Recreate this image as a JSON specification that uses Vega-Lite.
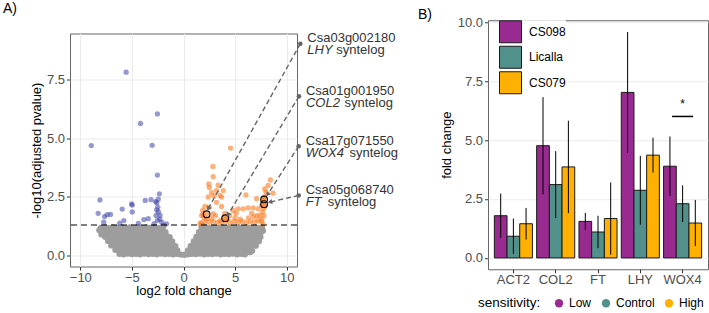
{
"$schema": "https://vega.github.io/schema/vega-lite/v6.json",
"background": "white",
"padding": {"left": 2, "top": 1, "right": 0, "bottom": 0},
"spacing": 18,
"center": true,
"resolve": {"legend": {"fill": "independent", "color": "independent"}},
"datasets": {
"ns": [
{"x":-8.0,"y":1.18},{"x":-7.6,"y":1.2},{"x":-7.2,"y":1.17},{"x":-6.8,"y":1.2},{"x":-6.4,"y":1.18},{"x":-6.0,"y":1.21},{"x":-5.6,"y":1.17},{"x":-5.2,"y":1.2},{"x":-4.8,"y":1.18},{"x":-4.4,"y":1.21},{"x":-4.0,"y":1.17},{"x":-3.6,"y":1.2},{"x":-3.2,"y":1.18},{"x":-2.8,"y":1.21},{"x":-2.4,"y":1.17},{"x":-2.0,"y":1.2},
{"x":1.75,"y":1.18},{"x":2.1,"y":1.21},{"x":2.5,"y":1.17},{"x":2.9,"y":1.2},{"x":3.3,"y":1.18},{"x":3.7,"y":1.21},{"x":4.1,"y":1.17},{"x":4.5,"y":1.2},{"x":4.9,"y":1.18},{"x":5.3,"y":1.21},{"x":5.7,"y":1.17},{"x":6.1,"y":1.2},{"x":6.5,"y":1.18},{"x":6.9,"y":1.21},{"x":7.3,"y":1.17},{"x":7.6,"y":1.2},
{"x":-7.8,"y":1.0},{"x":-7.4,"y":0.98},{"x":-7.0,"y":1.01},{"x":-6.6,"y":0.99},{"x":-6.2,"y":1.0},{"x":-5.8,"y":0.98},{"x":-5.4,"y":1.01},{"x":-5.0,"y":0.99},{"x":-4.6,"y":1.0},{"x":-4.2,"y":0.98},{"x":-3.8,"y":1.01},{"x":-3.4,"y":0.99},{"x":-3.0,"y":1.0},{"x":-2.6,"y":0.98},{"x":-2.2,"y":1.01},{"x":-1.75,"y":0.99},
{"x":1.5,"y":1.0},{"x":1.9,"y":0.98},{"x":2.3,"y":1.01},{"x":2.7,"y":0.99},{"x":3.1,"y":1.0},{"x":3.5,"y":0.98},{"x":3.9,"y":1.01},{"x":4.3,"y":0.99},{"x":4.7,"y":1.0},{"x":5.1,"y":0.98},{"x":5.5,"y":1.01},{"x":5.9,"y":0.99},{"x":6.3,"y":1.0},{"x":6.7,"y":0.98},{"x":7.1,"y":1.01},{"x":7.5,"y":0.99},
{"x":-7.6,"y":0.8},{"x":-7.2,"y":0.82},{"x":-6.8,"y":0.79},{"x":-6.4,"y":0.81},{"x":-6.0,"y":0.8},{"x":-5.6,"y":0.82},{"x":-5.2,"y":0.79},{"x":-4.8,"y":0.81},{"x":-4.4,"y":0.8},{"x":-4.0,"y":0.82},{"x":-3.6,"y":0.79},{"x":-3.2,"y":0.81},{"x":-2.8,"y":0.8},{"x":-2.4,"y":0.82},{"x":-2.0,"y":0.79},{"x":-1.6,"y":0.81},{"x":-1.35,"y":0.78},
{"x":1.25,"y":0.79},{"x":1.6,"y":0.81},{"x":2.0,"y":0.8},{"x":2.4,"y":0.82},{"x":2.8,"y":0.79},{"x":3.2,"y":0.81},{"x":3.6,"y":0.8},{"x":4.0,"y":0.82},{"x":4.4,"y":0.79},{"x":4.8,"y":0.81},{"x":5.2,"y":0.8},{"x":5.6,"y":0.82},{"x":6.0,"y":0.79},{"x":6.4,"y":0.81},{"x":6.8,"y":0.8},{"x":7.2,"y":0.82},{"x":7.45,"y":0.79},
{"x":-7.3,"y":0.62},{"x":-6.9,"y":0.6},{"x":-6.5,"y":0.63},{"x":-6.1,"y":0.61},{"x":-5.7,"y":0.62},{"x":-5.3,"y":0.6},{"x":-4.9,"y":0.63},{"x":-4.5,"y":0.61},{"x":-4.1,"y":0.62},{"x":-3.7,"y":0.6},{"x":-3.3,"y":0.63},{"x":-2.9,"y":0.61},{"x":-2.5,"y":0.62},{"x":-2.1,"y":0.6},{"x":-1.7,"y":0.63},{"x":-1.35,"y":0.61},{"x":-1.1,"y":0.6},
{"x":1.0,"y":0.6},{"x":1.4,"y":0.62},{"x":1.8,"y":0.6},{"x":2.2,"y":0.63},{"x":2.6,"y":0.61},{"x":3.0,"y":0.62},{"x":3.4,"y":0.6},{"x":3.8,"y":0.63},{"x":4.2,"y":0.61},{"x":4.6,"y":0.62},{"x":5.0,"y":0.6},{"x":5.4,"y":0.63},{"x":5.8,"y":0.61},{"x":6.2,"y":0.62},{"x":6.6,"y":0.6},{"x":7.0,"y":0.63},{"x":7.3,"y":0.61},
{"x":-7.0,"y":0.43},{"x":-6.6,"y":0.41},{"x":-6.2,"y":0.44},{"x":-5.8,"y":0.42},{"x":-5.4,"y":0.43},{"x":-5.0,"y":0.41},{"x":-4.6,"y":0.44},{"x":-4.2,"y":0.42},{"x":-3.8,"y":0.43},{"x":-3.4,"y":0.41},{"x":-3.0,"y":0.44},{"x":-2.6,"y":0.42},{"x":-2.2,"y":0.43},{"x":-1.8,"y":0.41},{"x":-1.4,"y":0.44},{"x":-1.05,"y":0.42},{"x":-0.8,"y":0.4},
{"x":0.7,"y":0.4},{"x":1.1,"y":0.43},{"x":1.5,"y":0.41},{"x":1.9,"y":0.44},{"x":2.3,"y":0.42},{"x":2.7,"y":0.43},{"x":3.1,"y":0.41},{"x":3.5,"y":0.44},{"x":3.9,"y":0.42},{"x":4.3,"y":0.43},{"x":4.7,"y":0.41},{"x":5.1,"y":0.44},{"x":5.5,"y":0.42},{"x":5.9,"y":0.43},{"x":6.3,"y":0.41},{"x":6.7,"y":0.44},{"x":7.0,"y":0.42},
{"x":-6.6,"y":0.24},{"x":-6.2,"y":0.22},{"x":-5.8,"y":0.25},{"x":-5.4,"y":0.23},{"x":-5.0,"y":0.24},{"x":-4.6,"y":0.22},{"x":-4.2,"y":0.25},{"x":-3.8,"y":0.23},{"x":-3.4,"y":0.24},{"x":-3.0,"y":0.22},{"x":-2.6,"y":0.25},{"x":-2.2,"y":0.23},{"x":-1.8,"y":0.24},{"x":-1.4,"y":0.22},{"x":-1.0,"y":0.25},{"x":-0.6,"y":0.22},
{"x":0.45,"y":0.22},{"x":0.8,"y":0.24},{"x":1.2,"y":0.22},{"x":1.6,"y":0.25},{"x":2.0,"y":0.23},{"x":2.4,"y":0.24},{"x":2.8,"y":0.22},{"x":3.2,"y":0.25},{"x":3.6,"y":0.23},{"x":4.0,"y":0.24},{"x":4.4,"y":0.22},{"x":4.8,"y":0.25},{"x":5.2,"y":0.23},{"x":5.6,"y":0.24},{"x":6.0,"y":0.22},{"x":6.4,"y":0.25},{"x":6.65,"y":0.2},
{"x":-6.2,"y":0.07},{"x":-5.8,"y":0.05},{"x":-5.4,"y":0.08},{"x":-5.0,"y":0.06},{"x":-4.6,"y":0.07},{"x":-4.2,"y":0.05},{"x":-3.8,"y":0.08},{"x":-3.4,"y":0.06},{"x":-3.0,"y":0.07},{"x":-2.6,"y":0.05},{"x":-2.2,"y":0.08},{"x":-1.8,"y":0.06},{"x":-1.4,"y":0.07},{"x":-1.0,"y":0.05},{"x":-0.6,"y":0.07},{"x":-0.25,"y":0.04},
{"x":0.1,"y":0.03},{"x":0.45,"y":0.05},{"x":0.8,"y":0.07},{"x":1.2,"y":0.06},{"x":1.6,"y":0.08},{"x":2.0,"y":0.05},{"x":2.4,"y":0.07},{"x":2.8,"y":0.06},{"x":3.2,"y":0.08},{"x":3.6,"y":0.05},{"x":4.0,"y":0.07},{"x":4.4,"y":0.06},{"x":4.8,"y":0.08},{"x":5.2,"y":0.05},{"x":5.6,"y":0.07},{"x":5.95,"y":0.05},
{"x":6.45,"y":0.14},{"x":-8.15,"y":1.08},{"x":-7.95,"y":0.9},{"x":7.7,"y":1.05},{"x":-1.95,"y":1.26},{"x":1.85,"y":1.27}
],
"down": [
{"x":-5.56,"y":7.82},{"x":-2.53,"y":6.04},{"x":-4.17,"y":5.63},{"x":-8.94,"y":4.69},{"x":-3.04,"y":4.7},{"x":-2.53,"y":3.43},{"x":-2.34,"y":2.63},{"x":-8.1,"y":2.37},{"x":-8.27,"y":1.8},{"x":-7.65,"y":1.66},{"x":-7.4,"y":1.74},{"x":-7.08,"y":1.75},{"x":-7.73,"y":1.42},{"x":-5.94,"y":1.98},{"x":-5.78,"y":1.49},{"x":-6.18,"y":1.38},{"x":-5.03,"y":2.2},{"x":-4.97,"y":2.15},{"x":-4.97,"y":1.86},{"x":-4.37,"y":1.37},{"x":-3.71,"y":2.35},{"x":-3.15,"y":2.38},{"x":-3.84,"y":1.53},{"x":-3.42,"y":1.57},{"x":-2.59,"y":2.25},{"x":-2.49,"y":2.06},{"x":-2.43,"y":1.86},{"x":-2.66,"y":1.71},{"x":-2.27,"y":1.71},{"x":-2.53,"y":1.5},{"x":-2.11,"y":1.42},{"x":-1.65,"y":1.35},{"x":-2.85,"y":1.36},{"x":-2.45,"y":2.4},{"x":-2.6,"y":1.95},{"x":-2.3,"y":1.55},{"x":-2.7,"y":2.3}
],
"up": [
{"x":4.56,"y":4.58},{"x":2.85,"y":3.8},{"x":2.88,"y":3.36},{"x":2.45,"y":3.05},{"x":3.36,"y":3.0},{"x":2.5,"y":2.9},{"x":3.2,"y":2.77},{"x":3.85,"y":2.77},{"x":2.72,"y":2.68},{"x":2.4,"y":2.5},{"x":2.95,"y":2.55},{"x":3.53,"y":2.56},{"x":3.69,"y":2.49},{"x":3.2,"y":2.27},{"x":6.05,"y":2.59},{"x":8.42,"y":3.22},{"x":8.2,"y":2.99},{"x":8.68,"y":2.66},{"x":7.87,"y":2.84},{"x":8.0,"y":2.7},{"x":7.07,"y":2.42},{"x":2.08,"y":2.09},{"x":2.5,"y":2.05},{"x":3.69,"y":2.09},{"x":1.85,"y":1.92},{"x":1.76,"y":1.71},{"x":2.24,"y":1.56},{"x":2.88,"y":1.78},{"x":3.1,"y":1.7},{"x":3.53,"y":1.49},{"x":4.49,"y":1.71},{"x":4.81,"y":1.92},{"x":5.3,"y":1.99},{"x":5.78,"y":1.99},{"x":6.26,"y":2.03},{"x":6.75,"y":2.03},{"x":7.23,"y":1.99},{"x":7.55,"y":2.13},{"x":7.65,"y":1.85},{"x":7.39,"y":1.71},{"x":7.7,"y":2.35},{"x":7.75,"y":2.0},{"x":7.8,"y":1.7},{"x":7.6,"y":1.55},{"x":7.85,"y":2.5},{"x":7.5,"y":1.45},{"x":1.7,"y":1.4},{"x":2.1,"y":1.45},{"x":2.5,"y":1.42},{"x":2.9,"y":1.45},{"x":3.3,"y":1.4},{"x":3.7,"y":1.43},{"x":4.1,"y":1.45},{"x":4.5,"y":1.4},{"x":4.9,"y":1.45},{"x":5.3,"y":1.42},{"x":5.7,"y":1.45},{"x":6.1,"y":1.4},{"x":6.5,"y":1.45},{"x":6.9,"y":1.42},{"x":7.2,"y":1.5},{"x":2.0,"y":1.6},{"x":2.7,"y":1.58},{"x":3.9,"y":1.6},{"x":5.0,"y":1.6},{"x":5.5,"y":1.55},{"x":6.3,"y":1.6},{"x":6.8,"y":1.65},{"x":7.1,"y":1.7},{"x":4.3,"y":1.55},{"x":1.9,"y":1.75},{"x":4.0,"y":1.8},{"x":5.1,"y":1.8},{"x":6.6,"y":1.8},{"x":2.24,"y":1.76},{"x":4.04,"y":1.59},{"x":7.81,"y":2.39},{"x":7.81,"y":2.19},{"x":7.7,"y":1.35},{"x":1.6,"y":1.35},{"x":7.9,"y":2.1}
],
"hits": [
{"x":2.24,"y":1.76},{"x":4.04,"y":1.59},{"x":7.81,"y":2.39},{"x":7.81,"y":2.19}
],
"thr": [{"y":1.301}],
"ann": [
{"id":"Csa03g002180","gene":"LHY","lx":11.32,"ly":9.03,"tx":2.4,"ty":2.0,"sx":14.8},
{"id":"Csa01g001950","gene":"COL2","lx":11.19,"ly":6.79,"tx":4.3,"ty":1.73,"sx":15.6},
{"id":"Csa17g071550","gene":"WOX4","lx":11.16,"ly":4.66,"tx":8.15,"ty":2.6,"sx":16.09},
{"id":"Csa05g068740","gene":"FT","lx":11.16,"ly":2.56,"tx":8.38,"ty":2.28,"sx":13.99}
],
"expr": [
{"gene":"ACT2","genotype":"CS098","sensitivity":"Low","mean":1.79,"lo":0.85,"hi":2.73},
{"gene":"ACT2","genotype":"Licalla","sensitivity":"Control","mean":0.92,"lo":0.17,"hi":1.67},
{"gene":"ACT2","genotype":"CS079","sensitivity":"High","mean":1.45,"lo":0.78,"hi":2.12},
{"gene":"COL2","genotype":"CS098","sensitivity":"Low","mean":4.76,"lo":2.7,"hi":6.82},
{"gene":"COL2","genotype":"Licalla","sensitivity":"Control","mean":3.11,"lo":1.69,"hi":4.53},
{"gene":"COL2","genotype":"CS079","sensitivity":"High","mean":3.86,"lo":1.9,"hi":5.82},
{"gene":"FT","genotype":"CS098","sensitivity":"Low","mean":1.55,"lo":1.19,"hi":1.91},
{"gene":"FT","genotype":"Licalla","sensitivity":"Control","mean":1.1,"lo":0.41,"hi":1.79},
{"gene":"FT","genotype":"CS079","sensitivity":"High","mean":1.67,"lo":0.14,"hi":3.2},
{"gene":"LHY","genotype":"CS098","sensitivity":"Low","mean":7.02,"lo":4.46,"hi":9.58},
{"gene":"LHY","genotype":"Licalla","sensitivity":"Control","mean":2.87,"lo":1.41,"hi":4.33},
{"gene":"LHY","genotype":"CS079","sensitivity":"High","mean":4.36,"lo":3.62,"hi":5.1},
{"gene":"WOX4","genotype":"CS098","sensitivity":"Low","mean":3.89,"lo":2.63,"hi":5.15},
{"gene":"WOX4","genotype":"Licalla","sensitivity":"Control","mean":2.3,"lo":1.52,"hi":3.08},
{"gene":"WOX4","genotype":"CS079","sensitivity":"High","mean":1.48,"lo":0.5,"hi":2.46}
],
"sig": [{"gene":"WOX4","y":6.0,"label":"*"}]
},
"hconcat": [
{
"width": 227, "height": 233,
"title": {"text": "A)", "anchor": "start", "frame": "group", "dx": -67, "offset": 16},
"layer": [
{"data": {"name": "ns"}, "mark": {"type": "circle", "size": 40, "color": "#9d9d9d", "opacity": 1},
 "encoding": {
  "x": {"field": "x", "type": "quantitative", "scale": {"domain": [-11, 11], "nice": false, "zero": false},
   "axis": {"title": "log2 fold change", "values": [-10, -7.5, -5, -2.5, 0, 2.5, 5, 7.5, 10], "format": "d",
     "labelExpr": "datum.value % 5 === 0 ? datum.label : ''", "labelPadding": 1, "titlePadding": 0,
     "gridWidth": {"condition": {"test": "datum.value % 5 !== 0", "value": 0.5}, "value": 1},
     "tickOpacity": {"condition": {"test": "datum.value % 5 !== 0", "value": 0}, "value": 1}}},
  "y": {"field": "y", "type": "quantitative", "scale": {"domain": [-0.47, 9.47], "nice": false, "zero": false},
   "axis": {"title": "-log10(adjusted pvalue)", "values": [0, 1.25, 2.5, 3.75, 5, 6.25, 7.5, 8.75], "format": ".1f",
     "labelExpr": "datum.value % 2.5 === 0 ? datum.label : ''", "titlePadding": 3,
     "gridWidth": {"condition": {"test": "datum.value % 2.5 !== 0", "value": 0.5}, "value": 1},
     "tickOpacity": {"condition": {"test": "datum.value % 2.5 !== 0", "value": 0}, "value": 1}}}
 }},
{"data": {"name": "down"}, "mark": {"type": "circle", "size": 28, "color": "#3f45a8", "opacity": 0.55},
 "encoding": {"x": {"field": "x", "type": "quantitative", "scale": {"domain": [-11, 11], "nice": false, "zero": false}}, "y": {"field": "y", "type": "quantitative", "scale": {"domain": [-0.47, 9.47], "nice": false, "zero": false}}}},
{"data": {"name": "up"}, "mark": {"type": "circle", "size": 28, "color": "#fa7d22", "opacity": 0.6},
 "encoding": {"x": {"field": "x", "type": "quantitative", "scale": {"domain": [-11, 11], "nice": false, "zero": false}}, "y": {"field": "y", "type": "quantitative", "scale": {"domain": [-0.47, 9.47], "nice": false, "zero": false}}}},
{"data": {"name": "thr"}, "mark": {"type": "rule", "color": "black", "strokeWidth": 1.2, "strokeDash": [6, 4]},
 "encoding": {"y": {"field": "y", "type": "quantitative", "scale": {"domain": [-0.47, 9.47], "nice": false, "zero": false}}}},
{"data": {"name": "hits"}, "mark": {"type": "point", "filled": false, "size": 45, "color": "black", "strokeWidth": 1.1, "opacity": 1},
 "encoding": {"x": {"field": "x", "type": "quantitative", "scale": {"domain": [-11, 11], "nice": false, "zero": false}}, "y": {"field": "y", "type": "quantitative", "scale": {"domain": [-0.47, 9.47], "nice": false, "zero": false}}}},
{"data": {"name": "ann"}, "mark": {"type": "rule", "color": "#666666", "strokeWidth": 1.4, "strokeDash": [5, 3]},
 "encoding": {"x": {"field": "lx", "type": "quantitative", "scale": {"domain": [-11, 11], "nice": false, "zero": false}}, "y": {"field": "ly", "type": "quantitative", "scale": {"domain": [-0.47, 9.47], "nice": false, "zero": false}}, "x2": {"field": "tx"}, "y2": {"field": "ty"}}},
{"data": {"name": "ann"}, "transform": [{"calculate": "atan2((datum.tx - datum.lx) * 10.35, (datum.ty - datum.ly) * 23.45) * 180 / PI", "as": "ang"}],
 "mark": {"type": "point", "shape": "triangle-up", "filled": true, "size": 28, "color": "#666666", "opacity": 1},
 "encoding": {"x": {"field": "tx", "type": "quantitative", "scale": {"domain": [-11, 11], "nice": false, "zero": false}}, "y": {"field": "ty", "type": "quantitative", "scale": {"domain": [-0.47, 9.47], "nice": false, "zero": false}}, "angle": {"field": "ang", "type": "quantitative", "scale": null}}},
{"data": {"name": "ann"}, "mark": {"type": "circle", "size": 22, "color": "#666666", "opacity": 1},
 "encoding": {"x": {"field": "lx", "type": "quantitative", "scale": {"domain": [-11, 11], "nice": false, "zero": false}}, "y": {"field": "ly", "type": "quantitative", "scale": {"domain": [-0.47, 9.47], "nice": false, "zero": false}}}},
{"data": {"name": "ann"}, "mark": {"type": "text", "align": "left", "baseline": "alphabetic", "dx": 7, "dy": -1.5, "fontSize": 13, "color": "#333333"},
 "encoding": {"x": {"field": "lx", "type": "quantitative", "scale": {"domain": [-11, 11], "nice": false, "zero": false}}, "y": {"field": "ly", "type": "quantitative", "scale": {"domain": [-0.47, 9.47], "nice": false, "zero": false}}, "text": {"field": "id"}}},
{"data": {"name": "ann"}, "mark": {"type": "text", "align": "left", "baseline": "alphabetic", "dx": 7, "dy": 10.5, "fontSize": 13, "fontStyle": "italic", "color": "#333333"},
 "encoding": {"x": {"field": "lx", "type": "quantitative", "scale": {"domain": [-11, 11], "nice": false, "zero": false}}, "y": {"field": "ly", "type": "quantitative", "scale": {"domain": [-0.47, 9.47], "nice": false, "zero": false}}, "text": {"field": "gene"}}},
{"data": {"name": "ann"}, "mark": {"type": "text", "align": "left", "baseline": "alphabetic", "dy": 10.5, "fontSize": 13, "color": "#333333"},
 "encoding": {"x": {"field": "sx", "type": "quantitative", "scale": {"domain": [-11, 11], "nice": false, "zero": false}}, "y": {"field": "ly", "type": "quantitative", "scale": {"domain": [-0.47, 9.47], "nice": false, "zero": false}}, "text": {"value": "syntelog"}}}
]
},
{
"width": 220, "height": 249,
"title": {"text": "B)", "anchor": "start", "frame": "group", "dx": -70, "offset": -6},
"layer": [
{"data": {"name": "expr"}, "mark": {"type": "bar", "stroke": "#1a1a1a", "strokeWidth": 1},
 "encoding": {
  "x": {"field": "gene", "type": "nominal", "scale": {"domain": ["ACT2", "COL2", "FT", "LHY", "WOX4"], "paddingInner": 0.1, "paddingOuter": 0.15},
    "axis": {"title": null, "labelAngle": 0, "labelPadding": 1}},
  "xOffset": {"field": "genotype", "type": "nominal", "scale": {"domain": ["CS098", "Licalla", "CS079"], "paddingInner": 0, "paddingOuter": 0}},
  "y": {"field": "mean", "type": "quantitative", "scale": {"domain": [-0.48, 10.08], "nice": false, "zero": false},
    "axis": {"title": "fold change", "values": [0, 1.25, 2.5, 3.75, 5, 6.25, 7.5, 8.75, 10], "format": ".1f",
     "labelExpr": "datum.value % 2.5 === 0 ? datum.label : ''", "titlePadding": 4,
     "gridWidth": {"condition": {"test": "datum.value % 2.5 !== 0", "value": 0.5}, "value": 1},
     "tickOpacity": {"condition": {"test": "datum.value % 2.5 !== 0", "value": 0}, "value": 1}}},
  "fill": {"field": "genotype", "type": "nominal", "scale": {"domain": ["CS098", "Licalla", "CS079"], "range": ["#982a90", "#52908b", "#ffb000"]},
    "legend": {"orient": "none", "legendX": 11, "legendY": 0, "title": null, "symbolType": "square", "symbolSize": 484, "symbolStrokeColor": "#1a1a1a", "symbolStrokeWidth": 1, "labelFontSize": 12, "labelColor": "black", "labelOffset": 7, "rowPadding": -1.5, "padding": 0, "fillColor": "white"}}
 }},
{"data": {"name": "expr"}, "mark": {"type": "rule", "color": "black", "strokeWidth": 1},
 "encoding": {"x": {"field": "gene", "type": "nominal"}, "xOffset": {"field": "genotype", "type": "nominal"}, "y": {"field": "lo", "type": "quantitative"}, "y2": {"field": "hi"}}},
{"data": {"name": "expr"}, "mark": {"type": "point", "filled": true, "opacity": 0},
 "encoding": {"x": {"field": "gene", "type": "nominal"}, "xOffset": {"field": "genotype", "type": "nominal"}, "y": {"field": "mean", "type": "quantitative"},
  "color": {"field": "sensitivity", "type": "nominal", "scale": {"domain": ["Low", "Control", "High"], "range": ["#982a90", "#52908b", "#ffb000"]},
   "legend": {"orient": "none", "legendX": -10, "legendY": 277, "direction": "horizontal", "title": "sensitivity:", "titleOrient": "left", "titleFontSize": 13.5, "titleFontWeight": "normal", "titleColor": "black", "titlePadding": 12, "symbolType": "circle", "symbolSize": 70, "symbolStrokeWidth": 0, "symbolOpacity": 1, "labelFontSize": 12, "labelColor": "black", "labelOffset": 4, "columnPadding": 8, "padding": 0}}
 }},
{"data": {"name": "sig"}, "mark": {"type": "tick", "orient": "horizontal", "size": 21, "thickness": 1.5, "color": "black", "opacity": 1},
 "encoding": {"x": {"field": "gene", "type": "nominal"}, "y": {"field": "y", "type": "quantitative"}}},
{"data": {"name": "sig"}, "mark": {"type": "text", "dy": -8, "fontSize": 12, "color": "black", "baseline": "alphabetic"},
 "encoding": {"x": {"field": "gene", "type": "nominal"}, "y": {"field": "y", "type": "quantitative"}, "text": {"field": "label"}}}
]
}
],
"config": {
 "font": "Liberation Sans",
 "view": {"stroke": "#666666", "strokeWidth": 1},
 "axis": {"labelFontSize": 13, "labelColor": "#4d4d4d", "titleFontSize": 13, "titleColor": "black", "titleFontWeight": "normal", "tickColor": "#333333", "tickSize": 3.5, "domain": false, "gridColor": "#ebebeb", "labelPadding": 2, "labelOverlap": false},
 "title": {"fontSize": 14, "fontWeight": "normal", "color": "black"}
}
}
